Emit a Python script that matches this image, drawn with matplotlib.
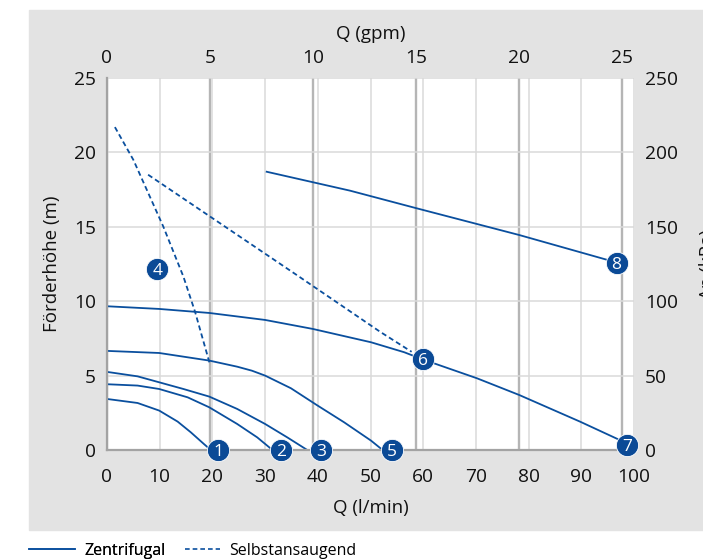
import matplotlib
matplotlib.use("Agg")
import matplotlib.pyplot as plt
from matplotlib.patches import Rectangle
from matplotlib.lines import Line2D

plt.rcParams['font.family'] = ['Open Sans', 'DejaVu Sans']

# pump curves, Q in l/min, head in m
c1_x = [0, 5.8, 9.9, 13.4, 15.9, 18.4, 19.7]
c1_y = [3.43, 3.16, 2.65, 1.91, 1.19, 0.40, 0.0]
c2_x = [0, 5.8, 9.9, 15.3, 19.4, 24.7, 28.5, 31.4]
c2_y = [4.42, 4.33, 4.10, 3.54, 2.87, 1.75, 0.85, 0.0]
c3_x = [0, 5.8, 9.9, 14.5, 19.4, 24.7, 30.0, 34.2, 38.0]
c3_y = [5.25, 4.95, 4.55, 4.1, 3.59, 2.76, 1.75, 0.85, 0.0]
c5_x = [0, 9.9, 19.4, 24.7, 27.5, 30.0, 34.9, 39.9, 45.0, 50.1, 52.3]
c5_y = [6.66, 6.52, 6.01, 5.6, 5.33, 5.0, 4.15, 3.0, 1.86, 0.63, 0.0]
c7_x = [0, 9.9, 19.4, 30.0, 39.0, 50.1, 56.4, 59.9, 70.2, 78.2, 89.8, 97.3, 98.7]
c7_y = [9.66, 9.48, 9.21, 8.74, 8.14, 7.24, 6.57, 6.09, 4.82, 3.70, 1.90, 0.67, 0.34]
c8_x = [30.3, 46.1, 58.8, 78.2, 96.7]
c8_y = [18.7, 17.43, 16.24, 14.45, 12.6]
# self-priming (dashed)
d4_x = [1.5, 5.0, 10.7, 14.5, 16.7, 19.5]
d4_y = [21.7, 19.5, 15.0, 11.65, 9.3, 5.8]
d6_x = [7.8, 36.0, 51.8, 57.8]
d6_y = [18.5, 11.76, 7.95, 6.6]

# numbered badges
badge_lbl = ['1', '2', '3', '4', '5', '6', '7', '8']
badge_x = [21.1, 33.1, 40.7, 9.55, 54.0, 59.9, 98.7, 96.7]
badge_y = [0, 0, 0, 12.15, 0, 6.09, 0.34, 12.6]

x_ticks = [0, 10, 20, 30, 40, 50, 60, 70, 80, 90, 100]
gpm_ticks = [0, 5, 10, 15, 20, 25]
y_ticks = [0, 5, 10, 15, 20, 25]
kpa_ticks = [0, 50, 100, 150, 200, 250]

blue = '#0a4f9e'
W, H = 703, 560
fig = plt.figure(figsize=(W / 100, H / 100), dpi=100)
fig.add_artist(Rectangle((29 / W, 1 - 530 / H), 1, 520 / H,
                         transform=fig.transFigure, color='#e3e3e3', zorder=0))

ax = fig.add_axes([107 / W, 110 / H, 527 / W, 372 / H])
ax_top = ax.twiny()
ax_r = ax.twinx()
ax_top.set_zorder(0)
ax_r.set_zorder(1)
ax.set_zorder(2)
ax.patch.set_visible(False)
ax_top.patch.set_visible(True)
ax_top.patch.set_facecolor('white')

ax.set_xlim(0, 100)
ax.set_ylim(0, 25)
ax.set_xticks(x_ticks)
ax.set_yticks(y_ticks)
ax.grid(True, color='#dadada', lw=1.1)
ax_top.set_xlim(0, 25.6)
ax_top.set_xticks(gpm_ticks)
ax_top.grid(True, axis='x', color='#b5b5b5', lw=1.7)
ax_r.set_ylim(0, 250)
ax_r.set_yticks(kpa_ticks)

fs = 13.8
for a in (ax, ax_top, ax_r):
    for s in a.spines.values():
        s.set_visible(False)
    a.tick_params(length=0, labelsize=fs, colors='#111111')
for s in ('left', 'bottom'):
    ax.spines[s].set_visible(True)
    ax.spines[s].set_color('#a3a3a3')
    ax.spines[s].set_linewidth(1.6)
ax.tick_params(axis='x', pad=13)
ax.tick_params(axis='y', pad=8)
ax_top.tick_params(axis='x', pad=8)
ax_r.tick_params(axis='y', pad=8)

ax.set_xlabel('Q (l/min)', fontsize=13.5, labelpad=9, color='#111111')
ax.set_ylabel('Förderhöhe (m)', fontsize=13.5, labelpad=9, color='#111111')
ax_top.set_xlabel('Q (gpm)', fontsize=13.5, labelpad=7, color='#111111')
fig.text(708 / W, 1 - 264 / H, 'Δp (kPa)', rotation=90, fontsize=13.5,
         ha='center', va='center', color='#111111')

lw = 1.3
for xs, ys in [(c1_x, c1_y), (c2_x, c2_y), (c3_x, c3_y), (c5_x, c5_y),
               (c7_x, c7_y), (c8_x, c8_y)]:
    ax.plot(xs, ys, color=blue, lw=lw, solid_joinstyle='round')
for xs, ys in [(d4_x, d4_y), (d6_x, d6_y)]:
    ax.plot(xs, ys, color=blue, lw=lw, dashes=(2.8, 1.8))

ax.plot(badge_x, badge_y, 'o', ms=16, color='#0b4a96', mec='white', mew=0.6,
        clip_on=False, zorder=5)
for t, bx, by in zip(badge_lbl, badge_x, badge_y):
    ax.text(bx, by, t, color='white', fontsize=12.5, ha='center',
            va='center_baseline', zorder=6, clip_on=False)

lg_kw = dict(loc='center left', frameon=False, fontsize=11.5, borderpad=0,
             borderaxespad=0, handletextpad=0.55)
leg1 = fig.legend([Line2D([], [], color=blue, lw=1.2)], ['Zentrifugal'],
                  bbox_to_anchor=(29 / W, 1 - 551 / H), handlelength=2.9, **lg_kw)
fig.add_artist(leg1)
fig.legend([Line2D([], [], color=blue, lw=1.2, dashes=(2.8, 1.8))], ['Selbstansaugend'],
           bbox_to_anchor=(185 / W, 1 - 551 / H), handlelength=2.2, **lg_kw)

fig.savefig('out.png', dpi=100)
